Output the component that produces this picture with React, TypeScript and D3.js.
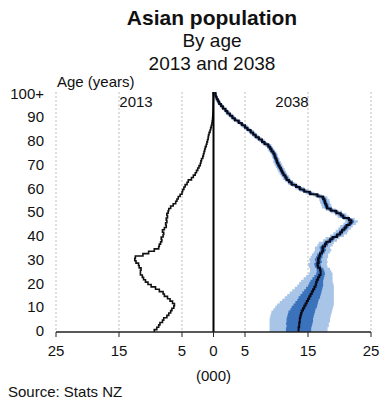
import React from "react";
import * as d3 from "d3";

// ages 0..100 (100 = 100+), values in thousands
const ages = d3.range(0, 101);

const pop2013 = [
  9.4, 9.0, 8.7, 8.5, 8.1, 7.9, 7.4, 7.1, 6.8, 6.6,
  6.3, 6.2, 6.5, 6.9, 7.3, 7.8, 8.0, 8.6, 9.2, 9.9,
  10.4, 10.8, 11.1, 11.3, 11.6, 11.6, 11.5, 11.8, 11.9, 12.3,
  12.5, 12.4, 11.2, 10.3, 9.4, 8.7, 8.6, 8.4, 8.2, 8.3,
  8.0, 7.9, 8.1, 7.8, 7.5, 7.6, 7.4, 7.5, 7.3, 7.4,
  7.2, 7.1, 6.8, 6.4, 6.0, 5.8, 5.6, 5.3, 5.0, 4.9,
  4.7, 4.5, 4.2, 4.0, 3.5, 3.2, 2.9, 2.7, 2.5, 2.3,
  2.1, 2.0, 1.9, 1.7, 1.6, 1.5, 1.4, 1.3, 1.15, 1.05,
  0.95, 0.85, 0.8, 0.7, 0.55, 0.45, 0.35, 0.25, 0.2, 0.15,
  0.12, 0.1, 0.08, 0.07, 0.06, 0.05, 0.04, 0.03, 0.03, 0.02,
  0.05
];

// 2038 median projection
const pop2038 = [
  13.5, 13.5, 13.6, 13.6, 13.7, 13.7, 13.8, 13.9, 14.0, 14.2,
  14.4, 14.6, 14.8, 15.0, 15.2, 15.4, 15.6, 15.8, 16.0, 16.2,
  16.3, 16.4, 16.6, 16.8, 17.0, 17.0, 16.9, 16.6, 16.5, 16.7,
  16.6, 16.8, 16.9, 17.2, 17.4, 17.3, 17.7, 17.9, 18.5, 18.9,
  19.6, 20.1, 20.4, 20.8, 21.1, 21.6, 21.9, 21.5, 20.6, 20.2,
  19.5, 18.6, 18.0, 17.9, 17.7, 17.6, 17.4, 16.5, 15.3, 14.4,
  13.7, 13.1, 12.4, 12.0, 11.6, 11.4, 11.1, 10.9, 10.7, 10.5,
  10.3, 10.1, 10.0, 9.8, 9.7, 9.5, 9.2, 9.0, 8.7, 8.1,
  7.7, 7.2, 6.7, 6.3, 5.9, 5.4, 5.0, 4.5, 4.0, 3.4,
  3.0, 2.6, 2.2, 1.9, 1.5, 1.2, 0.9, 0.7, 0.5, 0.35,
  0.3
];

// half widths of the 90% (outer) and 50% (inner) projection intervals
const outer2038 = [
  4.6, 4.6, 4.7, 4.7, 4.8, 4.8, 4.8, 4.8, 4.8, 4.7,
  4.6, 4.5, 4.3, 4.1, 3.9, 3.7, 3.5, 3.3, 3.1, 2.9,
  2.7, 2.5, 2.3, 2.1, 1.9, 1.7, 1.6, 1.5, 1.5, 1.4,
  1.4, 1.4, 1.3, 1.3, 1.3, 1.2, 1.2, 1.2, 1.1, 1.1,
  1.1, 1.1, 1.0, 1.0, 1.0, 1.0, 1.0, 0.9, 0.9, 0.9,
  0.9, 0.8, 0.8, 0.8, 0.8, 0.8, 0.7, 0.7, 0.7, 0.7,
  0.7, 0.6, 0.6, 0.6, 0.6, 0.6, 0.6, 0.6, 0.6, 0.6,
  0.6, 0.6, 0.5, 0.5, 0.5, 0.5, 0.5, 0.5, 0.5, 0.5,
  0.5, 0.5, 0.5, 0.5, 0.5, 0.5, 0.5, 0.4, 0.4, 0.4,
  0.4, 0.4, 0.4, 0.3, 0.3, 0.3, 0.3, 0.3, 0.2, 0.2,
  0.2
];

const inner2038 = [
  2.0, 2.0, 2.0, 2.1, 2.1, 2.1, 2.1, 2.1, 2.1, 2.0,
  2.0, 1.9, 1.8, 1.7, 1.7, 1.6, 1.5, 1.4, 1.3, 1.2,
  1.1, 1.0, 0.9, 0.8, 0.7, 0.6, 0.55, 0.5, 0.5, 0.5,
  0.5, 0.5, 0.45, 0.45, 0.45, 0.45, 0.45, 0.4, 0.4, 0.4,
  0.4, 0.4, 0.4, 0.4, 0.4, 0.4, 0.4, 0.4, 0.4, 0.4,
  0.35, 0.35, 0.35, 0.35, 0.35, 0.35, 0.35, 0.35, 0.35, 0.35,
  0.3, 0.3, 0.3, 0.3, 0.3, 0.3, 0.3, 0.3, 0.3, 0.3,
  0.3, 0.3, 0.3, 0.3, 0.3, 0.3, 0.3, 0.3, 0.3, 0.3,
  0.25, 0.25, 0.25, 0.25, 0.25, 0.25, 0.25, 0.25, 0.25, 0.25,
  0.2, 0.2, 0.2, 0.2, 0.2, 0.2, 0.2, 0.2, 0.15, 0.15,
  0.15
];

const xTicks = [-25, -15, -5, 0, 5, 15, 25];
const gridTicks = [-25, -15, -5, 5, 15, 25];
const yTicks = [0, 10, 20, 30, 40, 50, 60, 70, 80, 90, 100];

const width = 387;
const height = 404;
const font = "'Liberation Sans', Arial, sans-serif";

const x = d3.scaleLinear().domain([-25, 25]).range([56, 371]);
const y = d3.scaleLinear().domain([-0.5, 100.5]).range([332, 92]);

type Pt = { y: number; x0: number; x1: number };

// every age occupies a band; build two points per age so edges step
const stepPts = (lo: (i: number) => number, hi: (i: number) => number): Pt[] =>
  ages.flatMap(i => [
    { y: y(i - 0.5), x0: x(lo(i)), x1: x(hi(i)) },
    { y: y(i + 0.5), x0: x(lo(i)), x1: x(hi(i)) }
  ]);

const area = d3
  .area<Pt>()
  .y(d => d.y)
  .x0(d => d.x0)
  .x1(d => d.x1);

const line = d3
  .line<Pt>()
  .x(d => d.x0)
  .y(d => d.y);

const App = () => {
  const outerD = area(stepPts(i => pop2038[i] - outer2038[i], i => pop2038[i] + outer2038[i])) || "";
  const innerD = area(stepPts(i => pop2038[i] - inner2038[i], i => pop2038[i] + inner2038[i])) || "";
  const medD = line(stepPts(i => pop2038[i], i => pop2038[i])) || "";
  const oldD = line(stepPts(i => -pop2013[i], i => -pop2013[i])) || "";

  return (
    <svg
      width={width}
      height={height}
      style={{ position: "absolute", left: 0, top: 0, background: "#fff" }}
      fontFamily={font}
    >
      {/* titles */}
      <text x={212} y={25} textAnchor="middle" fontSize={21} fontWeight="bold" fill="#111">
        Asian population
      </text>
      <text x={212} y={47} textAnchor="middle" fontSize={19} fill="#111">
        By age
      </text>
      <text x={212} y={70} textAnchor="middle" fontSize={19} fill="#111">
        2013 and 2038
      </text>

      {/* grid */}
      {gridTicks.map(t => (
        <line
          key={t}
          x1={x(t)}
          x2={x(t)}
          y1={y(100.5)}
          y2={y(-0.5)}
          stroke="#bdbdbd"
          strokeWidth={1}
          strokeDasharray="2,2"
        />
      ))}

      {/* 2038 projection bands */}
      <path d={outerD} fill="#a8c5e8" />
      <path d={innerD} fill="#3a72bb" />
      <path d={medD} fill="none" stroke="#0a0a1a" strokeWidth={2} />

      {/* 2013 */}
      <path d={oldD} fill="none" stroke="#111" strokeWidth={1.6} />

      {/* centre line */}
      <line x1={x(0)} x2={x(0)} y1={y(100.5)} y2={y(-0.5)} stroke="#000" strokeWidth={2} />

      {/* x axis */}
      <line x1={x(-25)} x2={x(25)} y1={y(-0.5)} y2={y(-0.5)} stroke="#222" strokeWidth={1.5} />
      {xTicks.map(t => (
        <g key={t}>
          <line x1={x(t)} x2={x(t)} y1={y(-0.5)} y2={y(-0.5) + 5} stroke="#222" strokeWidth={1} />
          <text x={x(t)} y={356} textAnchor="middle" fontSize={15} fill="#111">
            {Math.abs(t)}
          </text>
        </g>
      ))}
      <text x={x(0)} y={381} textAnchor="middle" fontSize={15} fill="#111">
        (000)
      </text>

      {/* y axis labels */}
      {yTicks.map(t => (
        <text key={t} x={44} y={y(t)} dy="0.36em" textAnchor="end" fontSize={15} fill="#111">
          {t === 100 ? "100+" : t}
        </text>
      ))}
      <text x={57} y={87} fontSize={15} fill="#111">
        Age (years)
      </text>

      <text x={136} y={107} textAnchor="middle" fontSize={15} fill="#111">
        2013
      </text>
      <text x={292} y={107} textAnchor="middle" fontSize={15} fill="#111">
        2038
      </text>

      <text x={8} y={397} fontSize={15} fill="#111">
        Source: Stats NZ
      </text>
    </svg>
  );
};

App.displayName = "App";
export default App;
